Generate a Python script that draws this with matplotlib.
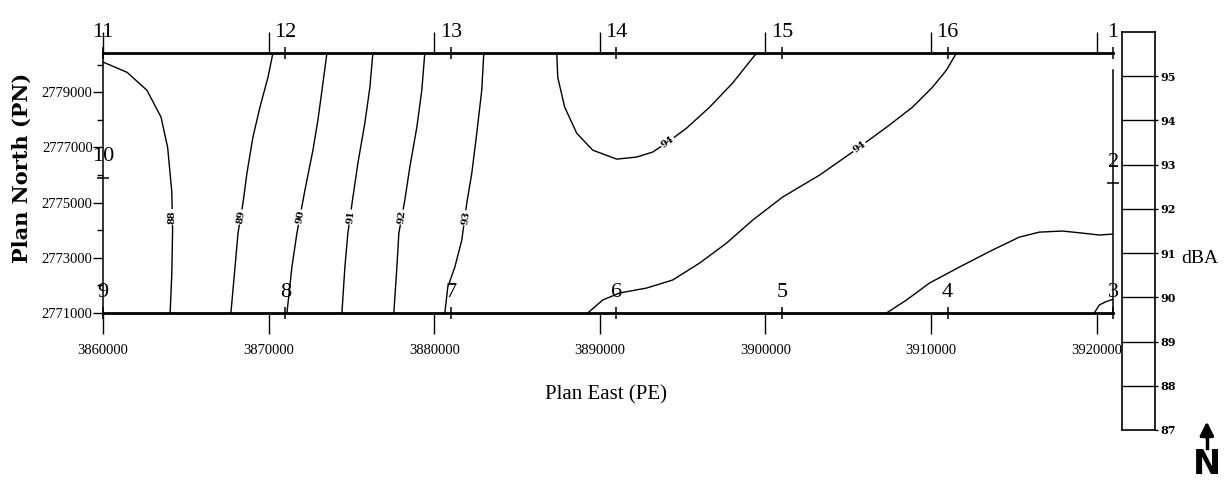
# 騒音レベル等値線図 (dBA)
import numpy as np
import matplotlib.pyplot as plt

# 測点番号と座標 (PE, PN)
station_no = [11, 12, 13, 14, 15, 16, 1, 10, 2, 9, 8, 7, 6, 5, 4, 3]
station_pe = [3860000, 3871000, 3881000, 3891000, 3901000, 3911000, 3921000,
              3860000, 3921000,
              3860000, 3871000, 3881000, 3891000, 3901000, 3911000, 3921000]
station_pn = [2780420, 2780420, 2780420, 2780420, 2780420, 2780420, 2780420,
              2775900, 2775700,
              2771000, 2771000, 2771000, 2771000, 2771000, 2771000, 2771000]

# 等値線 (読み取り座標)
pe_88 = [3860000, 3861450, 3862650, 3863500, 3863900, 3864150, 3864200, 3864150, 3864050]
pn_88 = [2780090, 2779720, 2779070, 2778100, 2777000, 2775400, 2774000, 2772400, 2771000]

pe_89 = [3870260, 3869960, 3869475, 3869050, 3868690, 3868450, 3868150, 3867970, 3867720]
pn_89 = [2780420, 2779540, 2778457, 2777370, 2776070, 2774980, 2773900, 2772665, 2771000]

pe_90 = [3873520, 3873280, 3872975, 3872675, 3872190, 3871890, 3871710, 3871405, 3871105]
pn_90 = [2780420, 2779330, 2777990, 2776900, 2775450, 2774475, 2773900, 2772665, 2771000]

pe_91 = [3876295, 3876115, 3875810, 3875390, 3875090, 3874785, 3874605, 3874425]
pn_91 = [2780420, 2779180, 2777880, 2776430, 2775200, 2773900, 2772665, 2771000]

pe_92 = [3879430, 3879250, 3878950, 3878525, 3878225, 3877865, 3877745, 3877560]
pn_92 = [2780420, 2779070, 2777730, 2776285, 2775090, 2773900, 2772665, 2771000]

pe_93 = [3882995, 3882870, 3882570, 3882270, 3881965, 3881665, 3881245, 3880820, 3880640]
pn_93 = [2780420, 2779070, 2777515, 2776070, 2774980, 2773640, 2772665, 2771940, 2771000]

pe_94a = [3887400, 3887460, 3887880, 3888605, 3889570, 3891020, 3892225, 3893190,
          3894100, 3895245, 3896630, 3898020, 3899470]
pn_94a = [2780420, 2779540, 2778457, 2777515, 2776900, 2776575, 2776650, 2776830,
          2777190, 2777700, 2778457, 2779330, 2780420]

pe_94b = [3889270, 3890175, 3891200, 3892830, 3894400, 3896030, 3897660, 3899230,
          3901040, 3903270, 3905260, 3907315, 3908885, 3910090, 3910935, 3911540]
pn_94b = [2771000, 2771470, 2771725, 2771905, 2772195, 2772810, 2773535, 2774365,
          2775200, 2775995, 2776830, 2777730, 2778457, 2779180, 2779800, 2780420]

pe_95 = [3907315, 3908520, 3909910, 3911720, 3913710, 3915340, 3916545, 3917935,
         3919140, 3920165, 3921000]
pn_95 = [2771000, 2771470, 2772085, 2772665, 2773280, 2773750, 2773930, 2773970,
         2773895, 2773825, 2773860]

pe_96 = [3919865, 3920165, 3920530, 3921000]
pn_96 = [2771000, 2771290, 2771400, 2771500]

contour_pe = [pe_88, pe_89, pe_90, pe_91, pe_92, pe_93, pe_94a, pe_94b, pe_95, pe_96]
contour_pn = [pn_88, pn_89, pn_90, pn_91, pn_92, pn_93, pn_94a, pn_94b, pn_95, pn_96]

# 等値線ラベル
label_text = ['88', '89', '90', '91', '92', '93', '94', '94']
label_pe = [3864175, 3868330, 3871890, 3874965, 3878045, 3881905, 3894100, 3905685]
label_pn = [2774475, 2774475, 2774475, 2774475, 2774475, 2774440, 2777190, 2777010]

# 凡例スケール
bar_min, bar_max = 87, 96
bar_ticks = [87, 88, 89, 90, 91, 92, 93, 94, 95]

x_ticks = [3860000, 3870000, 3880000, 3890000, 3900000, 3910000, 3920000]
y_ticks = [2771000, 2773000, 2775000, 2777000, 2779000]
y_minor = [2772000, 2774000, 2776000, 2778000, 2780000]

serif = 'Liberation Serif'

fig = plt.figure(figsize=(12.24, 4.84), dpi=100)
ax = fig.add_axes([0.0842, 0.3533, 0.8252, 0.5372])
ax.set_xlim(3860000, 3921000)
ax.set_ylim(2771000, 2780420)

# 枠線
for side in ['top', 'bottom']:
    ax.spines[side].set_linewidth(2.0)
ax.spines['left'].set_linewidth(1.1)
ax.spines['right'].set_linewidth(1.1)
ax.spines['right'].set_bounds(2771000, 2779800)

# 目盛り
ax.set_xticks(x_ticks, labels=[str(t) for t in x_ticks])
ax.set_yticks(y_ticks, labels=[str(t) for t in y_ticks])
ax.set_yticks(y_minor, minor=True)
ax.tick_params(axis='x', which='major', direction='out', length=15, width=1.0,
               top=True, labeltop=False, pad=7, labelsize=10.5, labelfontfamily=serif)
ax.tick_params(axis='y', which='major', direction='out', length=7, width=1.0,
               pad=0.5, labelsize=10.5, labelfontfamily=serif)
ax.tick_params(axis='y', which='minor', direction='out', length=4, width=1.0)

# 等値線を描画
for pe, pn in zip(contour_pe, contour_pn):
    ax.plot(pe, pn, color='black', lw=1.0)

# 等値線ラベル (最寄りの線の向きに合わせて回転)
fig.canvas.draw()
for txt, lx, ly in zip(label_text, label_pe, label_pn):
    p0 = ax.transData.transform((lx, ly))
    best = None
    for pe, pn in zip(contour_pe, contour_pn):
        pts = ax.transData.transform(np.column_stack([pe, pn]))
        d = np.hypot(pts[:, 0] - p0[0], pts[:, 1] - p0[1])
        k = int(np.argmin(d))
        if best is None or d[k] < best[0]:
            best = (d[k], pts, k)
    _, pts, k = best
    k0, k1 = max(k - 1, 0), min(k + 1, len(pts) - 1)
    ang = np.degrees(np.arctan2(pts[k1, 1] - pts[k0, 1], pts[k1, 0] - pts[k0, 0]))
    if ang > 90:
        ang -= 180
    elif ang <= -90:
        ang += 180
    ax.text(lx, ly, txt, rotation=ang, rotation_mode='anchor', ha='center', va='center',
            fontsize=7, fontweight='bold', family='DejaVu Serif',
            bbox=dict(fc='white', ec='none', pad=0.6))

# 測点
for no, pe, pn in zip(station_no, station_pe, station_pn):
    on_side = pn not in (min(station_pn), max(station_pn))
    ax.plot(pe, pn, marker='_' if on_side else '|', ms=8, mew=1.1, color='black',
            ls='none', clip_on=False)
    ax.annotate(str(no), (pe, pn), xytext=(0, 15), textcoords='offset points',
                ha='center', va='center', fontsize=16, family=serif,
                annotation_clip=False)

ax.set_xlabel('Plan East (PE)', fontsize=15, family=serif, va='center')
ax.xaxis.set_label_coords(0.498, -0.315)
ax.set_ylabel('Plan North (PN)', fontsize=15, family='DejaVu Serif',
              fontweight='bold', va='center')
ax.yaxis.set_label_coords(-0.080, 0.56)

# 凡例スケール
cax = fig.add_axes([0.9167, 0.1116, 0.0270, 0.8223])
cax.set_ylim(bar_min, bar_max)
cax.set_xticks([])
for lv in bar_ticks[1:]:
    cax.axhline(lv, color='black', lw=1.0)
for s in cax.spines.values():
    s.set_linewidth(1.2)
cax.yaxis.tick_right()
cax.set_yticks(bar_ticks, labels=[str(t) for t in bar_ticks])
cax.tick_params(axis='y', length=2, width=1.0, pad=2, labelsize=8,
                labelfontfamily='DejaVu Serif')
for t in cax.get_yticklabels():
    t.set_fontweight('bold')
cax.yaxis.set_label_position('right')
cax.set_ylabel('dBA', rotation=0, fontsize=14, family=serif, ha='left', va='center')
cax.yaxis.set_label_coords(1.78, 0.43)

# 方位記号
fig.text(0.986, 0.075, 'N', ha='center', va='top', fontsize=24, fontweight='bold',
         family=['Liberation Sans Narrow', 'DejaVu Sans'])
fig.add_artist(plt.Line2D([0.986, 0.986], [0.075, 0.10], transform=fig.transFigure,
                          color='black', lw=2.5))
ax.annotate('', xy=(0.986, 0.135), xytext=(0.986, 0.09), xycoords='figure fraction',
            arrowprops=dict(arrowstyle='-|>', color='black', lw=2.5, mutation_scale=20))

fig.savefig('out.png', dpi=100)
